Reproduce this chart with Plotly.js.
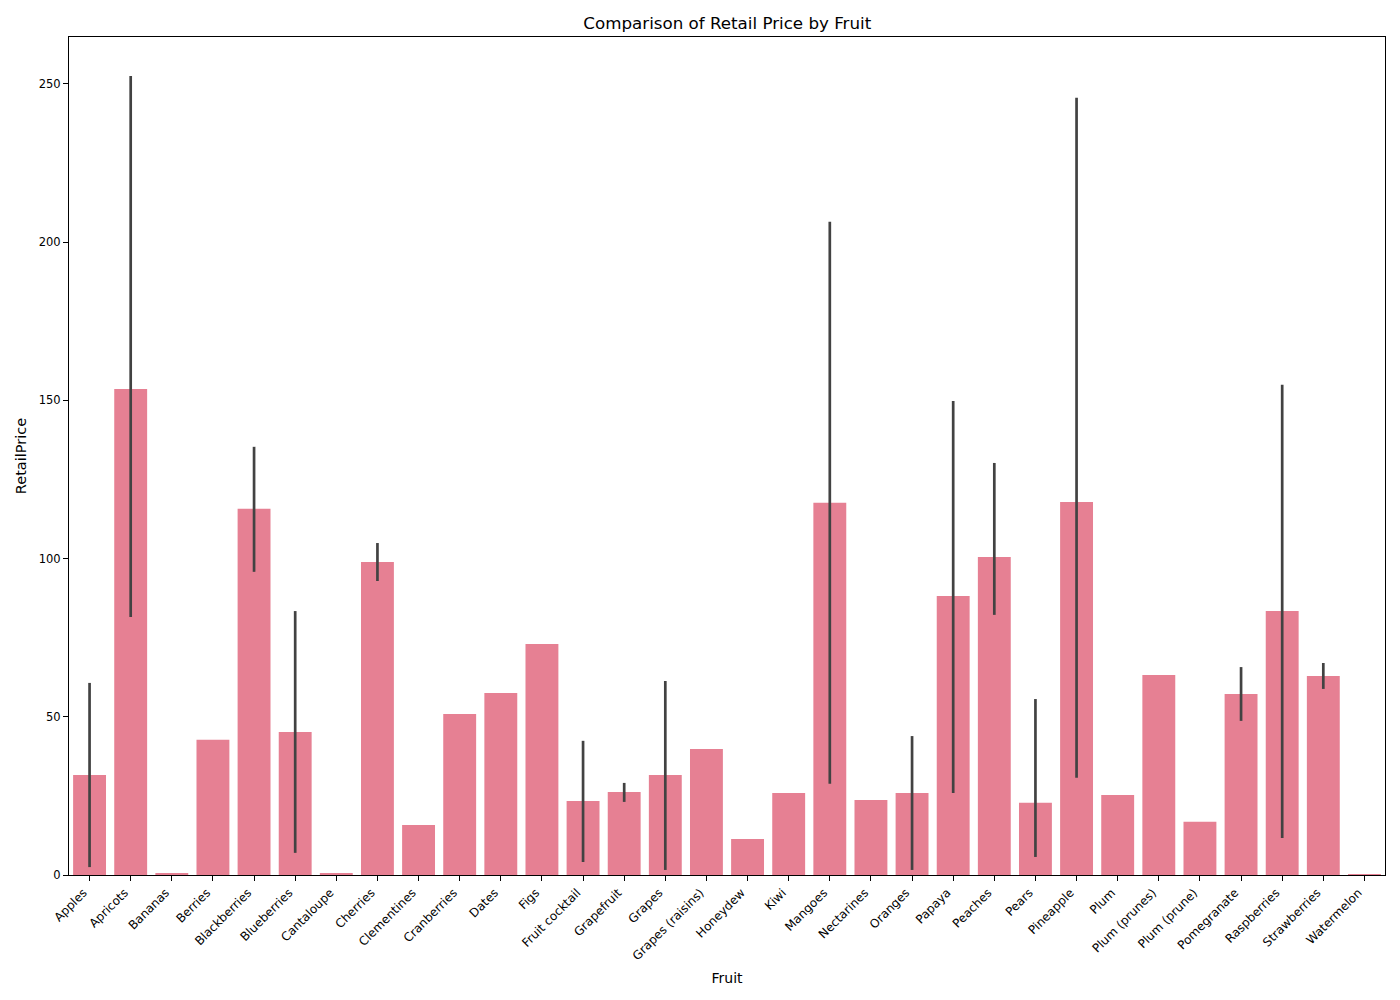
<!DOCTYPE html>
<html>
<head>
<meta charset="utf-8">
<script src="https://cdn.plot.ly/plotly-3.0.1.min.js"></script>
<style>html,body{margin:0;padding:0;background:#fff;}#chart{width:1400px;height:1000px;}</style>
</head>
<body>
<div id="chart"></div>
<script>
const fruits = ["Apples","Apricots","Bananas","Berries","Blackberries","Blueberries","Cantaloupe","Cherries","Clementines","Cranberries","Dates","Figs","Fruit cocktail","Grapefruit","Grapes","Grapes (raisins)","Honeydew","Kiwi","Mangoes","Nectarines","Oranges","Papaya","Peaches","Pears","Pineapple","Plum","Plum (prunes)","Plum (prune)","Pomegranate","Raspberries","Strawberries","Watermelon"];
const retailPrice = [31.6,153.6,0.6,42.7,115.7,45.2,0.6,98.9,15.8,50.9,57.5,73.0,23.4,26.2,31.6,39.8,11.4,25.9,117.6,23.7,25.9,88.2,100.5,22.8,117.9,25.3,63.2,16.8,57.2,83.4,62.9,0.3];
const ciHigh = [60.7,252.5,null,null,135.3,83.4,null,104.9,null,null,null,null,42.4,29.1,61.3,null,null,null,206.4,null,43.9,149.8,130.2,55.6,245.6,null,null,null,65.7,154.9,67.0,null];
const ciLow = [2.5,81.5,null,null,95.8,7.0,null,92.9,null,null,null,null,4.1,23.1,1.6,null,null,null,28.8,null,1.6,25.9,82.2,5.7,30.7,null,null,null,48.7,11.7,58.8,null];

const errPlus = retailPrice.map((v,i)=> ciHigh[i]===null ? 0 : ciHigh[i]-v);
const errMinus = retailPrice.map((v,i)=> ciLow[i]===null ? 0 : v-ciLow[i]);

const trace = {
  type: 'bar',
  x: fruits,
  y: retailPrice,
  width: 0.8,
  marker: {color: '#e68093', line: {width: 0}},
  error_y: {
    type: 'data', symmetric: false,
    array: errPlus, arrayminus: errMinus,
    color: '#424242', thickness: 2.7, width: 0, visible: true
  },
  hoverinfo: 'x+y'
};

const fontFam = 'DejaVu Sans, sans-serif';
const layout = {
  width: 1400, height: 1000,
  margin: {l: 69, r: 15, t: 37, b: 125, pad: 0},
  paper_bgcolor: '#fff', plot_bgcolor: '#fff',
  font: {family: fontFam, size: 11.5, color: '#000'},
  title: {text: 'Comparison of Retail Price by Fruit', font: {family: fontFam, size: 16.7, color:'#000'}, x: 0.5195, xanchor: 'center', y: 0.977, yanchor: 'middle'},
  bargap: 0.2,
  showlegend: false,
  xaxis: {
    type: 'category', range: [-0.5, 31.5],
    showline: true, mirror: true, linecolor: '#000', linewidth: 1,
    ticks: 'outside', ticklen: 5, tickwidth: 1, tickcolor: '#000',
    tickangle: -45, tickfont: {family: fontFam, size: 12, color:'#000'},
    ticklabelshift: -6,
    showgrid: false, zeroline: false, automargin: false,
    title: {text: 'Fruit', font: {family: fontFam, size: 14, color:'#000'}, standoff: 11}
  },
  yaxis: {
    range: [0, 264.8],
    tickvals: [0,50,100,150,200,250],
    showline: true, mirror: true, linecolor: '#000', linewidth: 1,
    ticks: 'outside', ticklen: 5, tickwidth: 1, tickcolor: '#000',
    tickfont: {family: fontFam, size: 11.5, color:'#000'},
    showgrid: false, zeroline: false, automargin: false,
    title: {text: 'RetailPrice', font: {family: fontFam, size: 14.5, color:'#000'}, standoff: 8}
  }
};

Plotly.newPlot('chart', [trace], layout, {displayModeBar: false, staticPlot: true});
</script>
</body>
</html>
